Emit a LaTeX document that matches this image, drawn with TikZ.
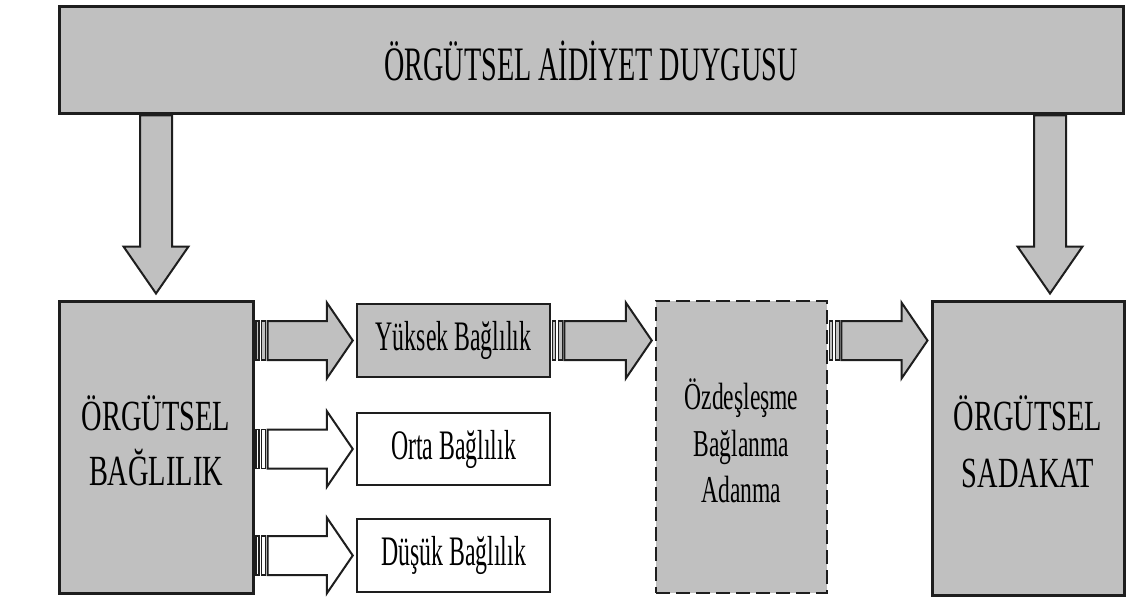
\documentclass[tikz,border=0pt]{standalone}
\usepackage{fontspec}
\setmainfont{Liberation Serif}
\usetikzlibrary{calc}
\definecolor{boxgray}{RGB}{192,192,192}
\definecolor{edge}{RGB}{30,30,30}

% horizontal block arrow with two stripes at its tail: fill, start, target
\newcommand{\stripedarrow}[3]{%
  \draw[blockarrow, fill=#1] let \p1=#2, \p2=#3 in
    (\x1+13pt,\y1+19.5pt) -- (\x2-29pt,\y1+19.5pt) -- (\x2-29pt,\y1+38pt)
    -- (\x2-3pt,\y1) -- (\x2-29pt,\y1-38pt) -- (\x2-29pt,\y1-19.5pt)
    -- (\x1+13pt,\y1-19.5pt) -- cycle;
  \draw[blockarrow, line width=1.2pt, fill=#1] let \p1=#2 in
    (\x1+1.5pt,\y1+19.5pt) rectangle (\x1+4.5pt,\y1-19.5pt)
    (\x1+7pt,\y1+19.5pt) rectangle (\x1+11pt,\y1-19.5pt);
}
% vertical block arrow pointing down: start, target
\newcommand{\downblock}[2]{%
  \draw[blockarrow, fill=boxgray] let \p1=#1, \p2=#2 in
    (\x1-16pt,\y1) -- (\x1-16pt,\y2+53pt) -- (\x1-32.5pt,\y2+53pt)
    -- (\x1,\y2+6pt) -- (\x1+32.5pt,\y2+53pt) -- (\x1+16pt,\y2+53pt)
    -- (\x1+16pt,\y1) -- cycle;
}

\begin{document}
\begin{tikzpicture}[x=1pt, y=-1pt,
  bigbox/.style={draw=edge, line width=3pt, fill=boxgray, inner sep=0pt},
  smallbox/.style={draw=edge, line width=2.5pt, inner sep=0pt,
    minimum width=193pt, minimum height=73pt},
  blockarrow/.style={draw=edge, line width=2pt, line join=miter},
  dashbox/.style={bigbox, line width=2.5pt, dash pattern=on 14pt off 6pt}]

\useasboundingbox[fill=white] (0,0) rectangle (1129,599);

% top band
\node[bigbox, minimum width=1064pt, minimum height=107pt] (top) at (591,60.5)
  {\fontsize{48}{50}\selectfont\scalebox{0.587}[1]{ÖRGÜTSEL AİDİYET DUYGUSU}};

% lower row
\node[bigbox, minimum width=194pt, minimum height=292pt] (bag) at (156,447)
  {\fontsize{43}{55}\selectfont\scalebox{0.66}[1]{\begin{tabular}{@{}c@{}}ÖRGÜTSEL\\BAĞLILIK\end{tabular}}};

\node[smallbox, fill=boxgray] (yuk) at (453.5,340.5)
  {\fontsize{42}{44}\selectfont\scalebox{0.567}[1]{Yüksek Bağlılık}};
\node[smallbox, fill=white, minimum height=72pt] (orta) at (453.5,449)
  {\fontsize{42}{44}\selectfont\scalebox{0.567}[1]{Orta Bağlılık}};
\node[smallbox, fill=white] (dus) at (453.5,555.5)
  {\fontsize{42}{44}\selectfont\scalebox{0.567}[1]{Düşük Bağlılık}};

\node[dashbox, minimum width=171pt, minimum height=292pt] (ozd) at (741.5,447)
  {\fontsize{38}{46.5}\selectfont\scalebox{0.62}[1]{\begin{tabular}{@{}c@{}}Özdeşleşme\\Bağlanma\\Adanma\end{tabular}}};

\node[bigbox, minimum width=192pt, minimum height=294pt] (sad) at (1028,448)
  {\fontsize{43}{57}\selectfont\scalebox{0.66}[1]{\begin{tabular}{@{}c@{}}ÖRGÜTSEL\\SADAKAT\end{tabular}}};

% down arrows from the top band
\coordinate (dl) at (156,0);
\coordinate (dr) at (1050,0);
\downblock{(top.south -| dl)}{(bag.north -| dl)}
\downblock{(top.south -| dr)}{(sad.north -| dr)}

% striped arrows
\stripedarrow{boxgray}{(bag.east |- yuk.west)}{(yuk.west)}
\stripedarrow{white}{(bag.east |- orta.west)}{(orta.west)}
\stripedarrow{white}{(bag.east |- dus.west)}{(dus.west)}
\stripedarrow{boxgray}{(yuk.east)}{(ozd.west |- yuk.east)}
\stripedarrow{boxgray}{(ozd.east |- yuk.east)}{(sad.west |- yuk.east)}
\end{tikzpicture}
\end{document}
